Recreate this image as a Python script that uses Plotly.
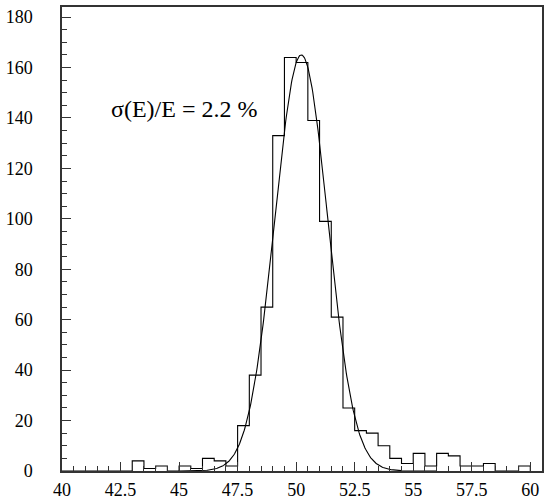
import plotly.graph_objects as go
import numpy as np

# Histogram: 40 bins of width 0.5 from 40 to 60
bin_lo = 40.0
bin_width = 0.5
counts = [0, 0, 0, 0, 0, 0, 4, 1, 2, 0,
          2, 1, 5, 4, 2, 18, 38, 65, 133, 164,
          162, 139, 99, 61, 25, 16, 15, 10, 5, 3,
          7, 2, 7, 6, 2, 2, 3, 0, 0, 2]

# Gaussian fit parameters
fit_amp = 165.0
fit_mean = 50.22
fit_sigma = 1.13
fit_range = [45.0, 56.0]

x_ticks = [40, 42.5, 45, 47.5, 50, 52.5, 55, 57.5, 60]
x_ticktext = ["40", "42.5", "45", "47.5", "50", "52.5", "55", "57.5", "60"]
y_ticks = [0, 20, 40, 60, 80, 100, 120, 140, 160, 180]

label_text = "σ(E)/E = 2.2 %"

# step outline of histogram
edges = [bin_lo + i * bin_width for i in range(len(counts) + 1)]
sx = [edges[0]] + edges[:-1] + [edges[-1], edges[-1]]
sy = [0] + counts + [counts[-1], 0]

fx = np.linspace(fit_range[0], fit_range[1], 400)
fy = fit_amp * np.exp(-0.5 * ((fx - fit_mean) / fit_sigma) ** 2)

fig = go.Figure()
fig.add_trace(go.Scatter(x=sx, y=sy, mode="lines", line=dict(shape="hv", color="black", width=1.1),
                         hoverinfo="skip", showlegend=False))
fig.add_trace(go.Scatter(x=fx, y=fy, mode="lines", line=dict(color="black", width=1.1),
                         showlegend=False))

font_family = "Liberation Serif, Times New Roman, serif"
fig.update_layout(
    width=551, height=501,
    margin=dict(l=62, r=9, t=7, b=30),
    paper_bgcolor="white", plot_bgcolor="white",
    font=dict(family=font_family, color="black", size=18),
    xaxis=dict(range=[40, 60.5], tickvals=x_ticks, ticktext=x_ticktext, automargin=False,
               ticks="inside", ticklen=9, tickwidth=1, tickcolor="#333",
               showgrid=False, zeroline=False, showline=True, linecolor="#333",
               linewidth=1.5, mirror=True, ticklabelstandoff=2,
               minor=dict(dtick=0.5, tick0=40, ticks="inside", ticklen=5, tickcolor="#333", showgrid=False),
               tickfont=dict(size=18)),
    yaxis=dict(range=[0, 184], tickvals=y_ticks, automargin=False,
               ticks="inside", ticklen=9, tickwidth=1, tickcolor="#333",
               showgrid=False, zeroline=False, showline=True, linecolor="#333",
               linewidth=1.5, mirror=True, ticklabelstandoff=24,
               minor=dict(dtick=5, tick0=0, ticks="inside", ticklen=5, tickcolor="#333", showgrid=False),
               tickfont=dict(size=18)),
    annotations=[dict(x=42.0, y=143.5, xref="x", yref="y", text=label_text, showarrow=False,
                      xanchor="left", yanchor="middle", font=dict(size=24, family=font_family))],
)

fig.write_html("out.html", config={"displayModeBar": False},
               post_script="document.body.style.margin='0';document.body.style.overflow='hidden';")
